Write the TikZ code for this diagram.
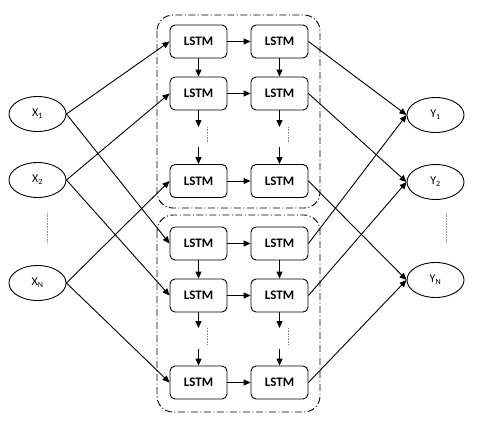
\documentclass[tikz,border=0pt]{standalone}
\usepackage{fontspec}
\setmainfont{Carlito}
\usetikzlibrary{shapes.geometric,arrows.meta}

\begin{document}
\begin{tikzpicture}[x=1pt, y=-1pt, line join=round,
  lstm/.style={draw, rounded corners=5pt, minimum width=57pt, minimum height=33pt,
    inner sep=0pt, line width=0.9pt, font=\fontsize{13}{13}\selectfont\bfseries},
  io/.style={draw, ellipse, minimum width=57pt, minimum height=35pt,
    inner sep=0pt, line width=0.9pt, font=\fontsize{12}{12}\selectfont},
  link/.style={line width=0.9pt, -{Triangle[length=7pt,width=6pt]}},
  group/.style={draw, rounded corners=16pt, line width=0.9pt,
    dash pattern=on 7pt off 2.5pt on 1pt off 2.5pt},
  gap/.style={draw=black!45, densely dotted, line width=0.6pt}]
% column positions of the two LSTM layers
\def\colA{198.5}
\def\colB{279.5}
\useasboundingbox (0,0) rectangle (480,432);
% Dash-dot frames round the two stacks
\draw[group] (157,15) rectangle (320,208);
\draw[group] (157,215) rectangle (320,412);
% Inputs
\node[io] (x1) at (37.5,114) {X\textsubscript{1}};
\node[io] (x2) at (37.5,180) {X\textsubscript{2}};
\node[io] (xn) at (37.5,283) {X\textsubscript{N}};
\draw[gap] (47,213) -- (47,243);
% Outputs
\node[io] (y1) at (435.5,115) {Y\textsubscript{1}};
\node[io] (y2) at (435.5,182) {Y\textsubscript{2}};
\node[io] (yn) at (435.5,280) {Y\textsubscript{N}};
\draw[gap] (446,213) -- (446,243);
% Upper stack
\node[lstm] (t11) at (\colA,41.5) {LSTM};
\node[lstm] (t12) at (\colB,41.5) {LSTM};
\node[lstm] (t21) at (\colA,93.5) {LSTM};
\node[lstm] (t22) at (\colB,93.5) {LSTM};
\node[lstm] (t31) at (\colA,181) {LSTM};
\node[lstm] (t32) at (\colB,181) {LSTM};
% Lower stack
\node[lstm] (b11) at (\colA,243.5) {LSTM};
\node[lstm] (b12) at (\colB,243.5) {LSTM};
\node[lstm] (b21) at (\colA,295.5) {LSTM};
\node[lstm] (b22) at (\colB,295.5) {LSTM};
\node[lstm] (b31) at (\colA,382.5) {LSTM};
\node[lstm] (b32) at (\colB,382.5) {LSTM};
% Free ends of the broken vertical links
\coordinate (ta1) at (\colA,127);
\coordinate (tb1) at (\colA,147);
\coordinate (ta2) at (\colB,127);
\coordinate (tb2) at (\colB,147);
\coordinate (ba1) at (\colA,328);
\coordinate (bb1) at (\colA,349);
\coordinate (ba2) at (\colB,328);
\coordinate (bb2) at (\colB,349);
% Links inside the stacks
\begin{scope}[link]
  \draw (t11) -- (t12);
  \draw (t21) -- (t22);
  \draw (t31) -- (t32);
  \draw (t11) -- (t21);
  \draw (t12) -- (t22);
  \draw (t21) -- (ta1);
  \draw (t22) -- (ta2);
  \draw (tb1) -- (t31);
  \draw (tb2) -- (t32);
  \draw (b11) -- (b12);
  \draw (b21) -- (b22);
  \draw (b31) -- (b32);
  \draw (b11) -- (b21);
  \draw (b12) -- (b22);
  \draw (b21) -- (ba1);
  \draw (b22) -- (ba2);
  \draw (bb1) -- (b31);
  \draw (bb2) -- (b32);
\end{scope}
\draw[gap] (207,127) -- (207,143);
\draw[gap] (288,127) -- (288,143);
\draw[gap] (207,328) -- (207,345);
\draw[gap] (288,328) -- (288,345);
% Inputs to stacks
\begin{scope}[link]
  \draw (x1.east) -- (t11.west);
  \draw (x1.east) -- (b11.west);
  \draw (x2.east) -- (t21.west);
  \draw (x2.east) -- (b21.west);
  \draw (xn.east) -- (t31.west);
  \draw (xn.east) -- (b31.west);
% Stacks to outputs
  \draw (t12.east) -- (y1.west);
  \draw (b12.east) -- (y1.west);
  \draw (t22.east) -- (y2.west);
  \draw (b22.east) -- (y2.west);
  \draw (t32.east) -- (yn.west);
  \draw (b32.east) -- (yn.west);
\end{scope}
\end{tikzpicture}
\end{document}
